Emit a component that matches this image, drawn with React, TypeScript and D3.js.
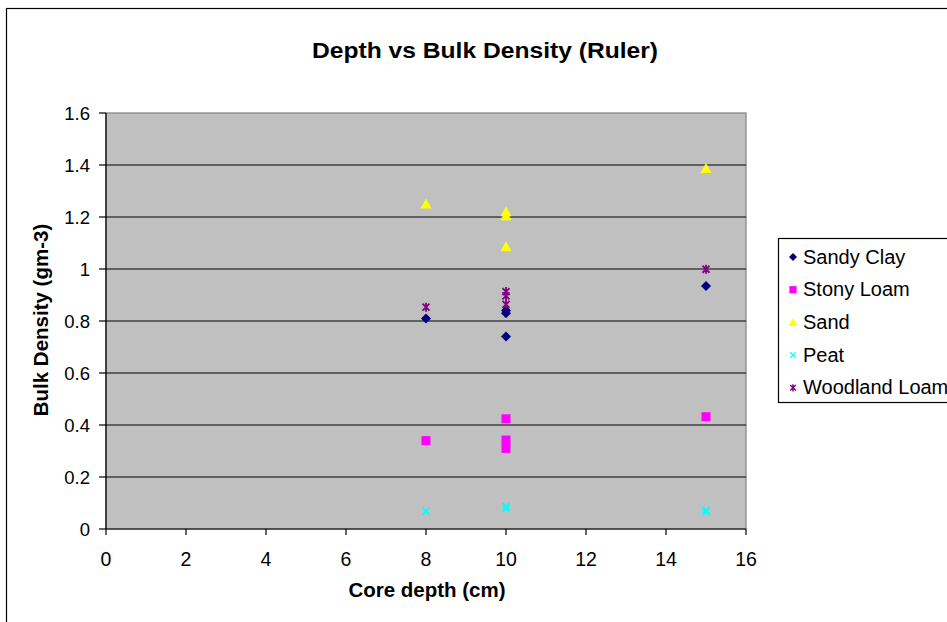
import React from "react";
import * as d3 from "d3";

const title = "Depth vs Bulk Density (Ruler)";
const xLabel = "Core depth (cm)";
const yLabel = "Bulk Density (gm-3)";
const xTicks = [0, 2, 4, 6, 8, 10, 12, 14, 16];
const yTicks = [0, 0.2, 0.4, 0.6, 0.8, 1.0, 1.2, 1.4, 1.6];

const sandyClayX = [8, 10, 10, 10, 15];
const sandyClayY = [0.81, 0.84, 0.83, 0.74, 0.935];
const stonyLoamX = [8, 10, 10, 10, 15];
const stonyLoamY = [0.34, 0.424, 0.342, 0.31, 0.432];
const sandX = [8, 10, 10, 10, 15];
const sandY = [1.25, 1.22, 1.205, 1.086, 1.387];
const peatX = [8, 10, 10, 15, 15];
const peatY = [0.069, 0.086, 0.078, 0.073, 0.067];
const woodlandX = [8, 10, 10, 10, 15];
const woodlandY = [0.853, 0.913, 0.897, 0.864, 0.999];

const seriesNames = ["Sandy Clay", "Stony Loam", "Sand", "Peat", "Woodland Loam"];
const seriesColors = ["#000080", "#FF00FF", "#FFFF00", "#00FFFF", "#800080"];
const seriesShapes = ["diamond", "square", "triangle", "x", "star"];
const seriesX = [sandyClayX, stonyLoamX, sandX, peatX, woodlandX];
const seriesY = [sandyClayY, stonyLoamY, sandY, peatY, woodlandY];

const FONT = "'Liberation Sans', Arial, sans-serif";

function Marker({ shape, color, x, y, s = 1 }: { shape: string; color: string; x: number; y: number; s?: number }) {
  const t = `translate(${x},${y}) scale(${s})`;
  if (shape === "diamond") {
    return <path transform={t} d="M0,-5L5,0L0,5L-5,0Z" fill={color} />;
  }
  if (shape === "square") {
    return <path transform={t} d="M-4.5,-4.5H4.5V4.5H-4.5Z" fill={color} />;
  }
  if (shape === "triangle") {
    return <path transform={t} d="M0,-5.5L5.5,4.5L-5.5,4.5Z" fill={color} />;
  }
  if (shape === "x") {
    return <path transform={t} d="M-3.5,-3.5L3.5,3.5M3.5,-3.5L-3.5,3.5" stroke={color} strokeWidth={1.6} fill="none" />;
  }
  return (
    <path
      transform={t}
      d="M-3.5,-3.5L3.5,3.5M3.5,-3.5L-3.5,3.5M0,-4.5L0,4.5"
      stroke={color}
      strokeWidth={1.8}
      fill="none"
    />
  );
}

export default function App() {
  const W = 947, H = 622;
  const left = 106, right = 746, top = 113, bottom = 529;
  const x = d3.scaleLinear().domain([0, 16]).range([left, right]);
  const y = d3.scaleLinear().domain([0, 1.6]).range([bottom, top]);
  const fmt = (v: number) => d3.format("")(Math.round(v * 10) / 10);

  const legX = 778, legY = 238, legH = 164, legStep = 32.7;

  return (
    <svg
      width={W}
      height={H}
      style={{ position: "absolute", left: 0, top: 0, fontFamily: FONT }}
    >
      <rect x={0} y={0} width={W} height={H} fill="#fff" />
      <rect x={6.5} y={8.5} width={W + 10} height={H + 10} fill="none" stroke="#000" strokeWidth={1.2} />
      <text x={485} y={57.5} textAnchor="middle" fontSize={22.5} fontWeight="bold" textLength={346} lengthAdjust="spacingAndGlyphs">{title}</text>

      <rect x={left} y={top} width={right - left} height={bottom - top} fill="#C0C0C0" stroke="#808080" strokeWidth={1.2} />
      {yTicks.filter((v) => v > 0 && v < 1.6).map((v) => (
        <line key={v} x1={left} x2={right} y1={y(v)} y2={y(v)} stroke="#000" strokeWidth={1.2} />
      ))}
      <line x1={left} x2={left} y1={top} y2={bottom} stroke="#000" strokeWidth={1.2} />
      <line x1={left} x2={right} y1={bottom} y2={bottom} stroke="#000" strokeWidth={1.2} />

      {yTicks.map((v) => (
        <g key={"y" + v}>
          <line x1={left - 7} x2={left} y1={y(v)} y2={y(v)} stroke="#000" strokeWidth={1.2} />
          <text x={90} y={y(v) + 6.5} textAnchor="end" fontSize={18.5}>{fmt(v)}</text>
        </g>
      ))}
      {xTicks.map((v) => (
        <g key={"x" + v}>
          <line x1={x(v)} x2={x(v)} y1={bottom} y2={bottom + 6} stroke="#000" strokeWidth={1.2} />
          <text x={x(v)} y={565.5} textAnchor="middle" fontSize={19.5}>{v}</text>
        </g>
      ))}

      <text x={427} y={597} textAnchor="middle" fontSize={20.5} fontWeight="bold">{xLabel}</text>
      <text transform={`translate(48,320) rotate(-90)`} textAnchor="middle" fontSize={20.5} fontWeight="bold">{yLabel}</text>

      {seriesNames.map((name, si) =>
        seriesX[si].map((xv, i) => (
          <Marker key={name + i} shape={seriesShapes[si]} color={seriesColors[si]} x={x(xv)} y={y(seriesY[si][i])} />
        ))
      )}

      <rect x={legX + 0.5} y={legY + 0.5} width={200} height={legH} fill="#fff" stroke="#000" strokeWidth={1.2} />
      {seriesNames.map((name, si) => (
        <g key={"leg" + name}>
          <Marker shape={seriesShapes[si]} color={seriesColors[si]} x={793} y={legY + 19 + si * legStep} s={0.8} />
          <text x={803} y={legY + 25.5 + si * legStep} fontSize={20}>{name}</text>
        </g>
      ))}
    </svg>
  );
}
